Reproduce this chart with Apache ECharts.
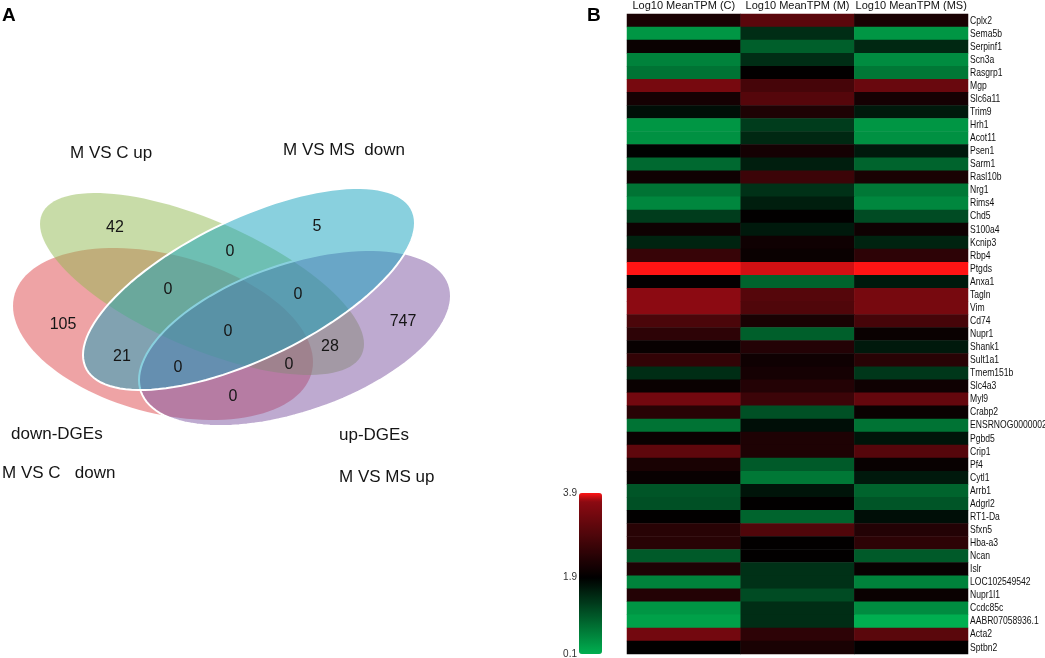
<!DOCTYPE html>
<html><head><meta charset="utf-8">
<script src="https://cdn.jsdelivr.net/npm/echarts@6/dist/echarts.min.js"></script>
<style>html,body{margin:0;padding:0;background:#fff}#c{width:1045px;height:658px}</style>
</head><body><div id="c"></div>
<script>
// ---------------- DATA ----------------
const genes = ['Cplx2','Sema5b','Serpinf1','Scn3a','Rasgrp1','Mgp','Slc6a11','Trim9','Hrh1','Acot11','Psen1','Sarm1','Rasl10b','Nrg1','Rims4','Chd5','S100a4','Kcnip3','Rbp4','Ptgds','Anxa1','Tagln','Vim','Cd74','Nupr1','Shank1','Sult1a1','Tmem151b','Slc4a3','Myl9','Crabp2','ENSRNOG0000002','Pgbd5','Crip1','Pf4','Cytl1','Arrb1','Adgrl2','RT1-Da','Sfxn5','Hba-a3','Ncan','Islr','LOC102549542','Nupr1l1','Ccdc85c','AABR07058936.1','Acta2','Sptbn2'];
const colHeaders = ['Log10 MeanTPM (C)','Log10 MeanTPM (M)','Log10 MeanTPM (MS)'];
const valC  = [2.22,0.36,2.03,0.56,0.72,3.44,2.16,1.75,0.36,0.41,1.88,0.82,2.09,0.72,0.51,1.28,2.09,1.54,2.61,3.90,1.95,3.70,3.70,2.86,2.48,2.00,2.54,1.44,2.03,3.38,2.41,0.72,2.03,3.12,2.22,2.00,1.03,1.08,1.93,2.41,2.41,0.97,2.29,0.56,2.35,0.36,0.25,3.38,1.92];
const valM  = [3.06,1.44,0.92,1.44,1.92,2.80,2.99,2.29,1.28,1.49,2.16,1.59,2.67,1.39,1.59,1.92,1.64,2.09,2.03,3.82,0.87,2.99,2.93,2.22,0.92,2.35,2.09,2.16,2.35,2.67,1.08,1.75,2.29,2.29,0.97,0.67,1.69,1.92,0.87,2.93,1.93,1.92,1.39,1.39,1.13,1.44,1.44,2.48,2.22];
const valMS = [2.22,0.36,1.49,0.46,0.67,3.25,2.16,1.64,0.36,0.41,1.64,0.87,2.22,0.67,0.51,1.13,2.09,1.54,2.48,3.90,1.64,3.44,3.44,2.80,2.03,1.64,2.41,1.33,2.09,3.19,2.03,0.72,1.69,2.99,2.00,1.64,0.87,1.03,1.75,2.35,2.48,0.97,2.00,0.56,2.03,0.46,0.10,3.06,1.92];
const scaleMin = 0.1, scaleMax = 3.9;
const scaleTicks = [0.1, 1.9, 3.9];

// Venn: set names (drawing order) and region counts
const vennSets = ['M VS C   down','M VS C up','M VS MS up','M VS MS  down'];
const vennCounts = [42,5,0,0,0,105,0,747,28,21,0,0,0];
const vennLabels = ['M VS C up','M VS MS  down','down-DGEs','M VS C   down','up-DGEs','M VS MS up'];

// ---------------- LAYOUT (not data) ----------------
// ellipse: centre x, centre y, half-width, half-height, y-offset of right-most point
const vennShapes = [
  [163,334,150,86, 28],
  [202,284,162,91, 60],
  [295,338,156,88,-42],
  [249,289,166,101,-66]
];
const vennFill = ['rgba(221,72,75,0.5)','rgba(145,185,81,0.5)','rgba(125,85,161,0.5)','rgba(19,161,189,0.5)'];
const vennStroke = [null,null,'#ffffff','#ffffff'];
const vennCountPos = [[115,228],[317,227],[230,252],[168,290],[298,295],[63,325],[228,332],[403,322],[330,347],[122,357],[178,368],[289,365],[233,397]];
const vennLabelPos = [[70,153],[283,150],[11,434],[2,473],[339,435],[339,477]];
const heatColors = ['#00af50','#009c47','#00883e','#007535','#00612c','#004e24','#003a1b','#002712','#001309','#000000','#100102','#1f0204','#2f0306','#3e0408','#4e060a','#5d070c','#6d080e','#7c0910','#8c0a12','#ff1414'];

const FF = 'Liberation Sans, Arial, sans-serif';

const heatData = [];
genes.forEach((g, i) => {
  heatData.push([0, i, valC[i]]);
  heatData.push([1, i, valM[i]]);
  heatData.push([2, i, valMS[i]]);
});
const geneLabelData = genes.map((g, i) => [2, i]);

const chart = echarts.init(document.getElementById('c'), null, {renderer: 'canvas'});
chart.setOption({
  animation: false,
  backgroundColor: '#fff',
  title: [
    {text: 'A', left: 2, top: 6, padding: 0, textStyle: {fontSize: 19, fontWeight: 'bold', color: '#000', fontFamily: FF}},
    {text: 'B', left: 587, top: 6, padding: 0, textStyle: {fontSize: 19, fontWeight: 'bold', color: '#000', fontFamily: FF}}
  ],
  grid: [
    {left: 0, top: 0, width: 1045, height: 658, outerBoundsMode: 'none'},
    {left: 627, top: 14, width: 341, height: 640, outerBoundsMode: 'none'},
    {left: 579, top: 493, width: 23, height: 161, outerBoundsMode: 'none'}
  ],
  xAxis: [
    {gridIndex: 0, type: 'value', min: 0, max: 1045, show: false},
    {gridIndex: 1, type: 'category', data: colHeaders, position: 'top',
      axisLine: {show: false}, axisTick: {show: false}, splitLine: {show: false},
      axisLabel: {interval: 0, fontSize: 11, margin: 3, color: '#111', fontFamily: FF}},
    {gridIndex: 2, type: 'value', min: 0, max: 1, show: false}
  ],
  yAxis: [
    {gridIndex: 0, type: 'value', min: 0, max: 658, inverse: true, show: false},
    {gridIndex: 1, type: 'category', data: genes, inverse: true, position: 'right',
      axisLine: {show: false}, axisTick: {show: false}, splitLine: {show: false},
      axisLabel: {show: false}},
    {gridIndex: 2, type: 'value', min: scaleMin, max: scaleMax, position: 'left',
      axisLine: {show: false}, axisTick: {show: false}, splitLine: {show: false},
      axisLabel: {customValues: scaleTicks, formatter: v => v.toFixed(1), fontSize: 10, margin: 2, color: '#333', fontFamily: FF}}
  ],
  visualMap: {
    type: 'continuous', seriesIndex: 3, min: scaleMin, max: scaleMax,
    calculable: false, orient: 'vertical', left: 579, top: 493, itemWidth: 23, itemHeight: 161,
    padding: 0, text: null, showLabel: false,
    inRange: {color: heatColors}
  },
  series: [
    { // ellipses
      type: 'custom', xAxisIndex: 0, yAxisIndex: 0, silent: true,
      data: vennShapes,
      renderItem: (params, api) => {
        const cx = api.value(0), cy = api.value(1), W = api.value(2), H = api.value(3), s = api.value(4);
        const q = Math.sqrt(H * H - s * s);
        const pts = [];
        for (let k = 0; k < 120; k++) {
          const t = k / 120 * Math.PI * 2;
          pts.push(api.coord([cx + W * Math.cos(t), cy + s * Math.cos(t) + q * Math.sin(t)]));
        }
        const i = params.dataIndex;
        return {type: 'polygon', shape: {points: pts},
          style: {fill: vennFill[i], stroke: vennStroke[i] || 'none', lineWidth: vennStroke[i] ? 2 : 0}};
      }
    },
    { // region counts
      type: 'custom', xAxisIndex: 0, yAxisIndex: 0, silent: true,
      data: vennCountPos,
      renderItem: (params, api) => {
        const p = api.coord([api.value(0), api.value(1)]);
        return {type: 'text', x: p[0], y: p[1],
          style: {text: String(vennCounts[params.dataIndex]), align: 'center', verticalAlign: 'middle',
            fontSize: 16, fontFamily: FF, fill: '#151515'}};
      }
    },
    { // set labels
      type: 'custom', xAxisIndex: 0, yAxisIndex: 0, silent: true,
      data: vennLabelPos,
      renderItem: (params, api) => {
        const p = api.coord([api.value(0), api.value(1)]);
        return {type: 'text', x: p[0], y: p[1],
          style: {text: vennLabels[params.dataIndex], align: 'left', verticalAlign: 'middle',
            fontSize: 17, fontFamily: FF, fill: '#151515'}};
      }
    },
    { // heatmap
      type: 'heatmap', xAxisIndex: 1, yAxisIndex: 1, data: heatData,
      itemStyle: {borderWidth: 0}, emphasis: {disabled: true}
    },
    { // gene row labels (condensed text, placed by the category axis)
      type: 'custom', xAxisIndex: 1, yAxisIndex: 1, silent: true, clip: false,
      data: geneLabelData,
      renderItem: (params, api) => {
        const p = api.coord([api.value(0), api.value(1)]);
        const sz = api.size([1, 1]);
        return {type: 'text', x: p[0] + sz[0] / 2 + 2, y: p[1], scaleX: 0.78,
          style: {text: genes[params.dataIndex], align: 'left', verticalAlign: 'middle',
            fontSize: 11, fontFamily: FF, fill: '#111'}};
      }
    }
  ]
});
</script></body></html>
